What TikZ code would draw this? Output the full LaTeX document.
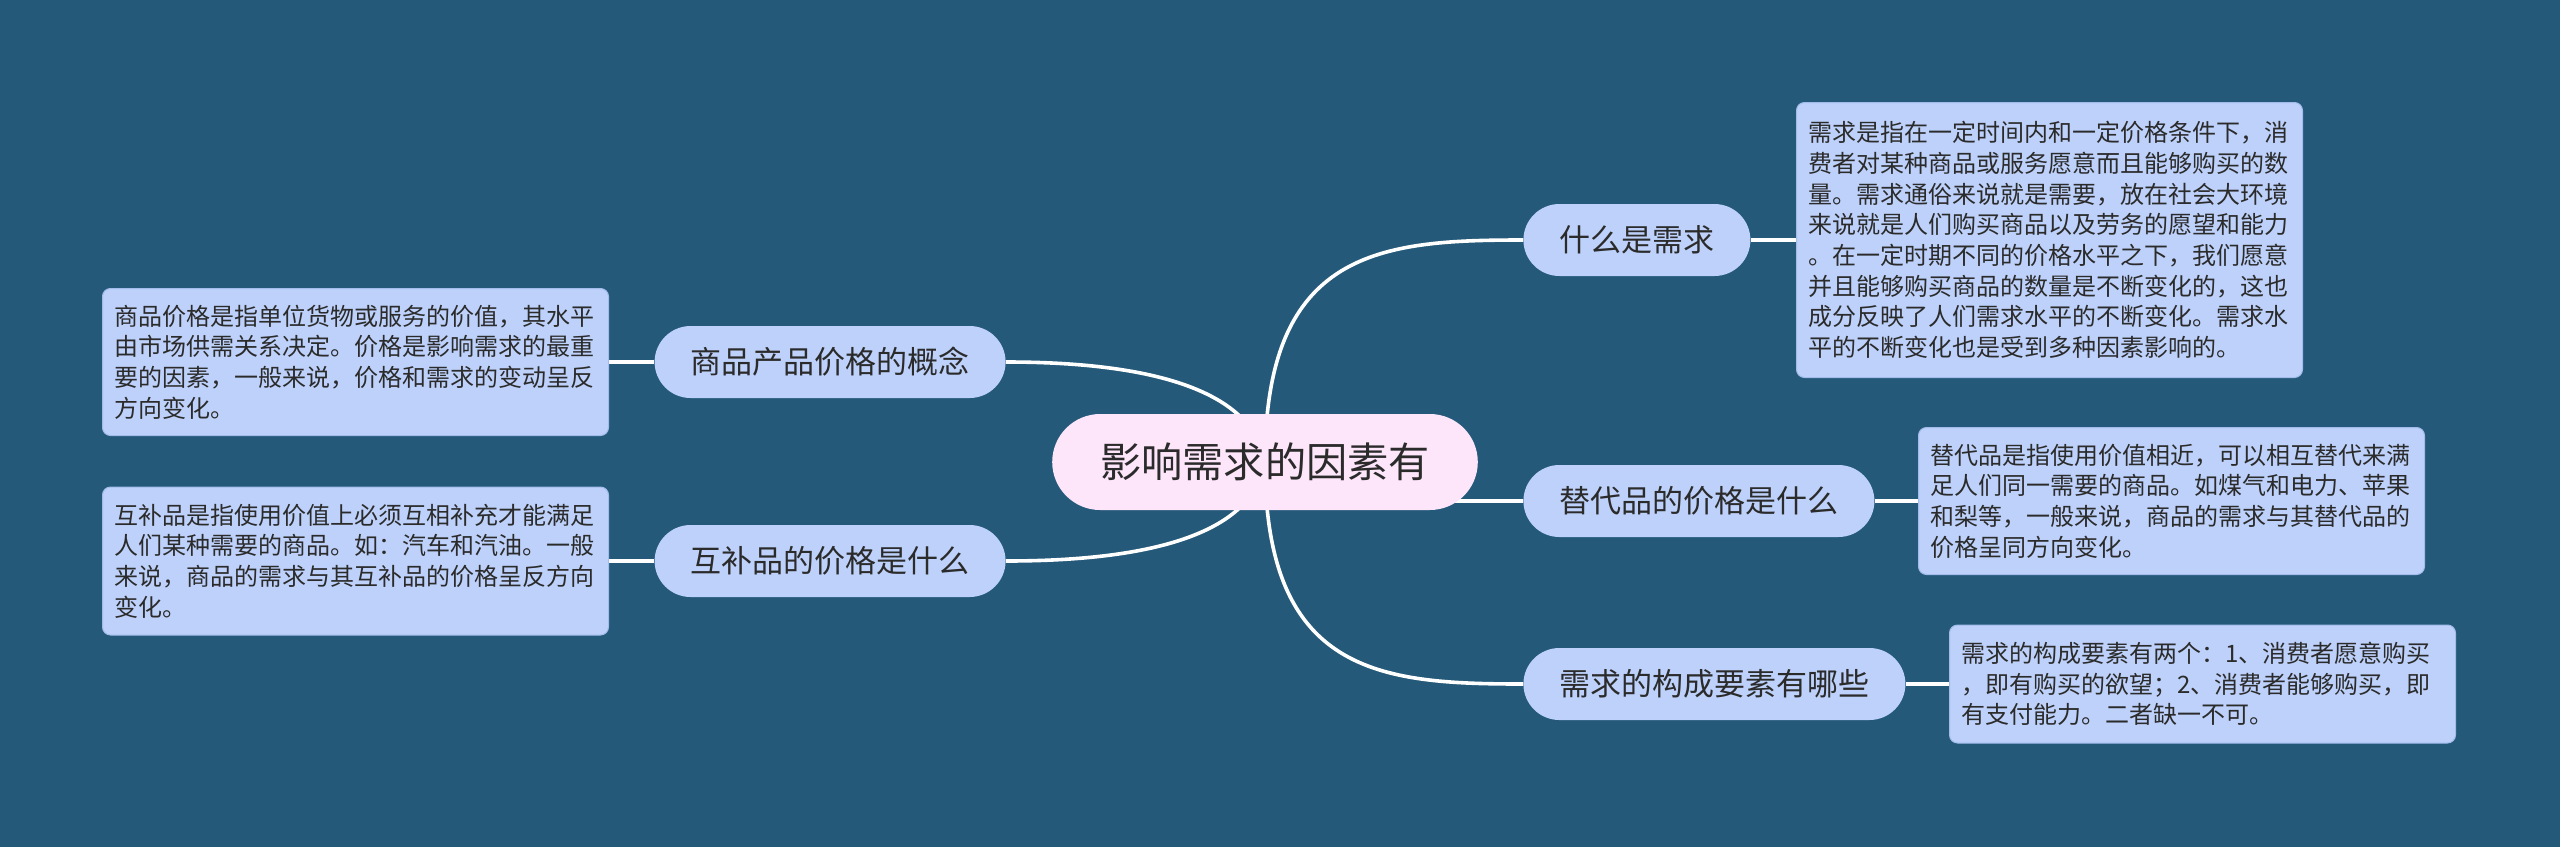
\documentclass[tikz,border=0pt]{standalone}
\usepackage{fontspec}
\setmainfont{Noto Sans CJK SC}
\usetikzlibrary{calc}
\definecolor{bgc}{HTML}{24597A}
\definecolor{topicc}{HTML}{BDD1FA}
\definecolor{rootc}{HTML}{FDE5FA}
\definecolor{txtc}{HTML}{2B2B2B}
\definecolor{boxline}{HTML}{A3BBEA}
\pgfdeclarelayer{bg}
\pgfdeclarelayer{edges}
\pgfsetlayers{bg,edges,main}
\tikzset{
  rootnode/.style={rectangle, rounded corners=24pt, fill=rootc, text=txtc,
    minimum height=48pt, inner xsep=24pt, inner ysep=0pt,
    font=\fontsize{20.6pt}{25pt}\selectfont},
  topicnode/.style={rectangle, rounded corners=18pt, fill=topicc, text=txtc,
    minimum height=36pt, inner xsep=18pt, inner ysep=0pt,
    font=\fontsize{15.5pt}{18pt}\selectfont},
  infobox/.style={rectangle, rounded corners=4pt, fill=topicc, draw=boxline,
    line width=0.5pt, text=txtc, text width=241pt, inner xsep=6pt,
    inner ysep=0pt, align=left, font=\fontsize{12pt}{15.35pt}\selectfont},
  link/.style={draw=white, line width=1.8pt},
}
\begin{document}
\begin{tikzpicture}[x=0.5pt,y=-0.5pt]
\useasboundingbox (0,0) rectangle (2560,847);
\begin{pgfonlayer}{bg}
\fill[bgc] (0,0) rectangle (2560,847);
\end{pgfonlayer}

\node[rootnode] (root) at (1265,462) {影响需求的因素有};

\node[topicnode, anchor=west] (t1) at (1523,240) {什么是需求};
\node[topicnode, anchor=west] (t2) at (1523,501) {替代品的价格是什么};
\node[topicnode, anchor=west] (t3) at (1523,684) {需求的构成要素有哪些};
\node[topicnode, anchor=east] (t4) at (1006,362) {商品产品价格的概念};
\node[topicnode, anchor=east] (t5) at (1006,561) {互补品的价格是什么};

\node[infobox, anchor=west, minimum height=137.5pt] (b1) at (1796,240) {需求是指在一定时间内和一定价格条件下，消\\费者对某种商品或服务愿意而且能够购买的数\\量。需求通俗来说就是需要，放在社会大环境\\来说就是人们购买商品以及劳务的愿望和能力\\。在一定时期不同的价格水平之下，我们愿意\\并且能够购买商品的数量是不断变化的，这也\\成分反映了人们需求水平的不断变化。需求水\\平的不断变化也是受到多种因素影响的。};
\node[infobox, anchor=west, minimum height=73.5pt] (b2) at (1918,501) {替代品是指使用价值相近，可以相互替代来满\\足人们同一需要的商品。如煤气和电力、苹果\\和梨等，一般来说，商品的需求与其替代品的\\价格呈同方向变化。};
\node[infobox, anchor=west, minimum height=59pt] (b3) at (1949,684) {需求的构成要素有两个：1、消费者愿意购买\\，即有购买的欲望；2、消费者能够购买，即\\有支付能力。二者缺一不可。};
\node[infobox, anchor=east, minimum height=73.5pt] (b4) at (609,362) {商品价格是指单位货物或服务的价值，其水平\\由市场供需关系决定。价格是影响需求的最重\\要的因素，一般来说，价格和需求的变动呈反\\方向变化。};
\node[infobox, anchor=east, minimum height=74pt] (b5) at (609,561) {互补品是指使用价值上必须互相补充才能满足\\人们某种需要的商品。如：汽车和汽油。一般\\来说，商品的需求与其互补品的价格呈反方向\\变化。};

\begin{pgfonlayer}{edges}
\draw[link] (root.center) .. controls +(0,-212) and +(-143,0) .. (t1.west);
\draw[link] (root.center |- t2.west) -- (t2.west);
\draw[link] (root.center) .. controls +(0,212) and +(-143,0) .. (t3.west);
\draw[link] (t4.east) .. controls +(150,0) and +(-12,-70) .. (root.center);
\draw[link] (t5.east) .. controls +(150,0) and +(-12,70) .. (root.center);
\draw[link] (t1.east) -- (b1.west);
\draw[link] (t2.east) -- (b2.west);
\draw[link] (t3.east) -- (b3.west);
\draw[link] (b4.east) -- (t4.west);
\draw[link] (b5.east) -- (t5.west);
\end{pgfonlayer}
\end{tikzpicture}
\end{document}
